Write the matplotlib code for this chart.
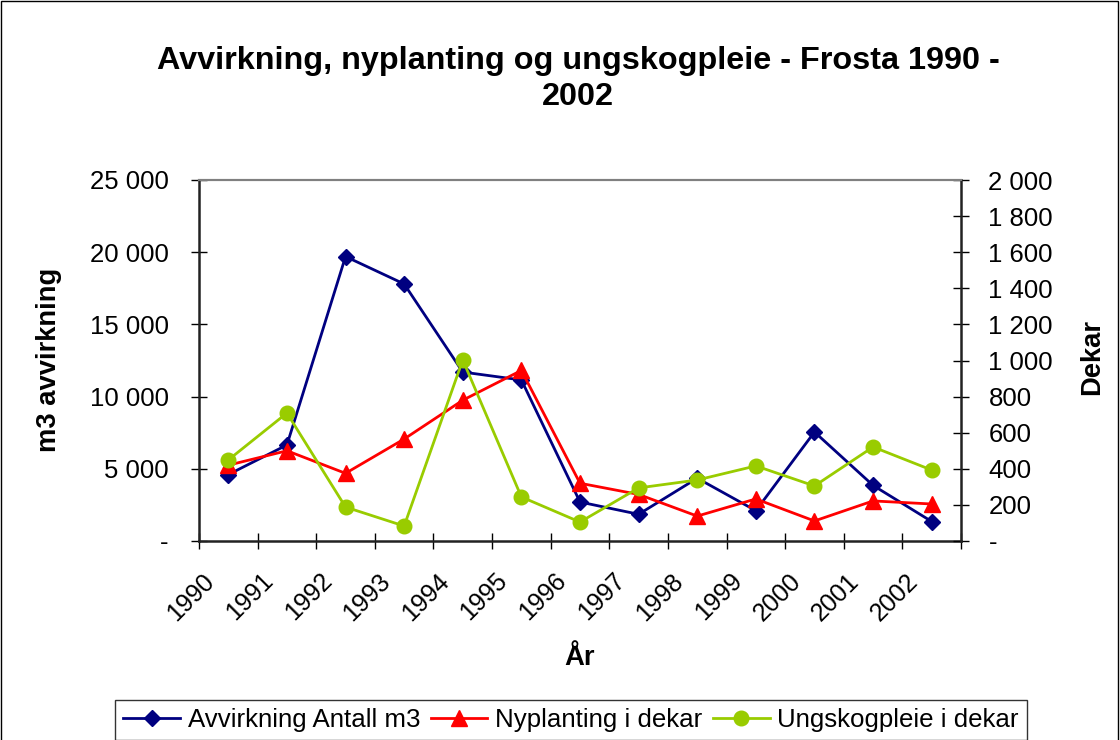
import numpy as np
import matplotlib
matplotlib.use('Agg')
import matplotlib.pyplot as plt
from matplotlib.ticker import FixedLocator, FuncFormatter, MultipleLocator
from matplotlib.transforms import ScaledTranslation
from matplotlib.patches import Rectangle

plt.rcParams['font.family'] = ['Liberation Sans', 'DejaVu Sans']

# Data
years = ['1990', '1991', '1992', '1993', '1994', '1995', '1996',
         '1997', '1998', '1999', '2000', '2001', '2002']
avvirkning_m3 = [4600, 6650, 19700, 17800, 11700, 11150, 2700,
                 1850, 4350, 2100, 7550, 3850, 1350]
nyplanting_dekar = [420, 500, 375, 565, 780, 945, 320,
                    258, 138, 233, 111, 222, 205]
ungskogpleie_dekar = [449, 709, 188, 83, 1003, 244, 105,
                      294, 338, 416, 305, 521, 393]

blue = '#000080'
red = '#FF0000'
green = '#99CC00'

def fmt_num(v, pos):
    if abs(v) < 1e-9:
        return '-'
    return f'{v:,.0f}'.replace(',', ' ')

fig = plt.figure(figsize=(11.2, 7.4), dpi=100)
ax = fig.add_axes([199 / 1120, 1 - 541 / 740, 762 / 1120, 361 / 740])
ax2 = ax.twinx()

x = np.arange(len(years))
l1, = ax.plot(x, avvirkning_m3, color=blue, lw=2, marker='D', ms=8.5,
              label='Avvirkning Antall m3')
l2, = ax2.plot(x, nyplanting_dekar, color=red, lw=2, marker='^', ms=11,
               label='Nyplanting i dekar')
l3, = ax2.plot(x, ungskogpleie_dekar, color=green, lw=2, marker='o', ms=10.5,
               label='Ungskogpleie i dekar')

ax.set_xlim(-0.5, len(years) - 0.5)
ax.set_ylim(0, 25000)
ax2.set_ylim(0, 2000)
ax.yaxis.set_major_locator(MultipleLocator(5000))
ax2.yaxis.set_major_locator(MultipleLocator(200))
ax.yaxis.set_major_formatter(FuncFormatter(fmt_num))
ax2.yaxis.set_major_formatter(FuncFormatter(fmt_num))

# category boundaries as major ticks, labels at category centres
ax.xaxis.set_major_locator(FixedLocator(np.arange(-0.5, len(years))))
ax.xaxis.set_major_formatter(FuncFormatter(lambda v, p: ''))
ax.xaxis.set_minor_locator(FixedLocator(x))
ax.set_xticks(x, years, minor=True)
ax.tick_params(axis='x', which='minor', length=0, pad=20, labelsize=18)
for lbl in ax.get_xticklabels(minor=True):
    lbl.set_rotation(45)
    lbl.set_ha('right')
    lbl.set_va('top')
    lbl.set_rotation_mode('anchor')
    lbl.set_transform(lbl.get_transform() + ScaledTranslation(-0.26, 0, fig.dpi_scale_trans))

ax.tick_params(axis='x', which='major', direction='inout', length=11.5, width=1)
ax.tick_params(axis='y', direction='inout', length=11.5, width=1, pad=16, labelsize=18.5)
ax2.tick_params(axis='y', direction='inout', length=11.5, width=1, pad=14, labelsize=18.5)

for s in ['top']:
    ax.spines[s].set_color('#808080')
    ax2.spines[s].set_color('#808080')
    ax.spines[s].set_linewidth(1.5)
    ax2.spines[s].set_linewidth(1.5)
ax.spines['right'].set_visible(False)
ax2.spines['left'].set_visible(False)
ax2.spines['bottom'].set_visible(False)
for sp in [ax.spines['left'], ax.spines['bottom'], ax2.spines['right']]:
    sp.set_linewidth(1.8)
    sp.set_color('#222222')

fig.text(578 / 1120, 1 - 79 / 740,
         'Avvirkning, nyplanting og ungskogpleie - Frosta 1990 -\n2002',
         ha='center', va='center', fontsize=23.3, fontweight='bold',
         linespacing=1.3)
fig.text(49 / 1120, 1 - 360 / 740, 'm3 avvirkning', rotation=90,
         ha='center', va='center', fontsize=19.7, fontweight='bold')
fig.text(1092 / 1120, 1 - 357 / 740, 'Dekar', rotation=90,
         ha='center', va='center', fontsize=19.7, fontweight='bold')
fig.text(580 / 1120, 1 - 658 / 740, 'År',
         ha='center', va='center', fontsize=19.7, fontweight='bold')

leg = fig.legend(handles=[l1, l2, l3], loc='upper center',
                 bbox_to_anchor=(571 / 1120, 1 - 700 / 740), ncol=3,
                 fontsize=18.6, frameon=True, fancybox=False, borderpad=0.3,
                 handlelength=2.2, handletextpad=0.3, columnspacing=0.4,
                 borderaxespad=0)
leg.get_frame().set_edgecolor('black')
leg.get_frame().set_linewidth(1)

# outer chart border
fig.patches.append(Rectangle((0.001, -0.1), 0.997, 1.099, transform=fig.transFigure,
                             fill=False, edgecolor='black', linewidth=1))

fig.savefig('out.png', dpi=100)
